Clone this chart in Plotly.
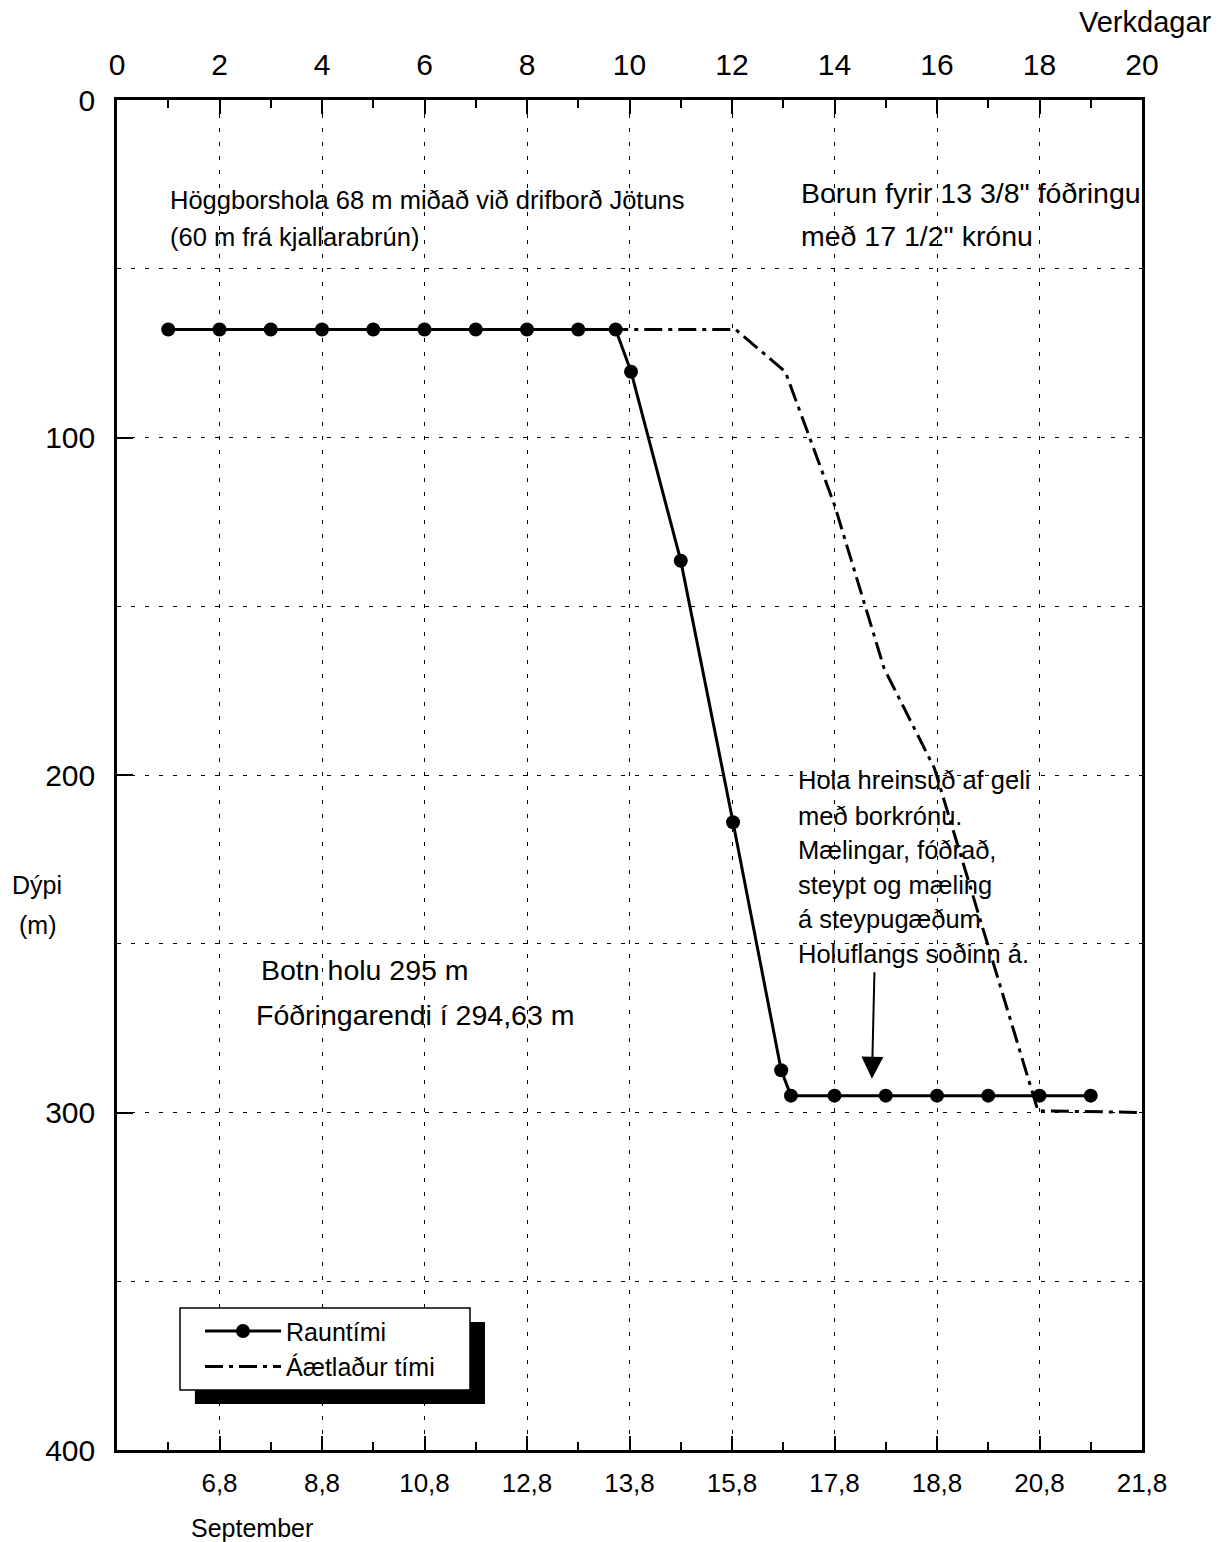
import plotly.graph_objects as go

# ---- data ----
raun_x = [1, 2, 3, 4, 5, 6, 7, 8, 9, 9.73, 10.03, 11.0, 12.02, 12.96, 13.15, 14, 15, 16, 17, 18, 19]
raun_y = [68, 68, 68, 68, 68, 68, 68, 68, 68, 68, 80.5, 136.5, 214, 287.5, 295, 295, 295, 295, 295, 295, 295]

aetl_x = [1, 9.73, 12.07, 13.04, 14.0, 14.97, 15.95, 17.97, 20]
aetl_y = [68, 68, 68, 80.5, 120, 168.5, 198, 299.5, 300]

top_tickvals = [0, 2, 4, 6, 8, 10, 12, 14, 16, 18, 20]
top_ticktext = ["0", "2", "4", "6", "8", "10", "12", "14", "16", "18", "20"]
minor_tickvals = [1, 3, 5, 7, 9, 11, 13, 15, 17, 19]
bottom_tickvals = [2, 4, 6, 8, 10, 12, 14, 16, 18, 20]
bottom_ticktext = ["6,8", "8,8", "10,8", "12,8", "13,8", "15,8", "17,8", "18,8", "20,8", "21,8"]
y_tickvals = [0, 100, 200, 300, 400]

FONT = "Liberation Sans, Arial, sans-serif"

fig = go.Figure()

fig.add_trace(go.Scatter(
    x=aetl_x, y=aetl_y, mode="lines", name="Áætlaður tími",
    line=dict(color="black", width=3, dash="18px,6px,4px,6px"),
))
fig.add_trace(go.Scatter(
    x=raun_x, y=raun_y, mode="lines+markers", name="Rauntími",
    line=dict(color="black", width=3),
    marker=dict(color="black", size=14, symbol="circle"),
))
# helper trace to activate top axis
fig.add_trace(go.Scatter(
    x=[0], y=[0], xaxis="x2", mode="markers", marker=dict(opacity=0),
    showlegend=False, hoverinfo="skip",
))

axis_common = dict(
    showline=True, linecolor="black", linewidth=2.5,
    ticks="inside", tickcolor="black", tickwidth=2,
    zeroline=False,
)

fig.update_layout(
    width=1229, height=1542,
    margin=dict(l=117, r=87, t=100, b=92),
    paper_bgcolor="white", plot_bgcolor="white",
    font=dict(family=FONT, color="black"),
    xaxis=dict(
        **axis_common,
        range=[0, 20],
        tickmode="array", tickvals=bottom_tickvals, ticktext=bottom_ticktext,
        ticklen=14,
        tickfont=dict(size=26, family=FONT, color="black"),
        ticklabelstandoff=8,
        showgrid=True, gridcolor="black", gridwidth=1.2, griddash="4px,10px",
        minor=dict(tickmode="array", tickvals=minor_tickvals, ticks="inside",
                   ticklen=8, tickwidth=2, tickcolor="black", showgrid=False),
    ),
    xaxis2=dict(
        **axis_common,
        overlaying="x", side="top", matches="x", range=[0, 20],
        tickmode="array", tickvals=top_tickvals, ticktext=top_ticktext,
        ticklen=14,
        tickfont=dict(size=30, family=FONT, color="black"),
        ticklabelstandoff=10,
        showgrid=False,
        minor=dict(tickmode="array", tickvals=minor_tickvals, ticks="inside",
                   ticklen=8, tickwidth=2, tickcolor="black", showgrid=False),
    ),
    yaxis=dict(
        **axis_common,
        mirror=True,
        range=[400, 0],
        tickmode="array", tickvals=y_tickvals,
        ticklen=16,
        tickfont=dict(size=30, family=FONT, color="black"),
        ticklabelstandoff=13,
        showgrid=True, gridcolor="black", gridwidth=1.2, griddash="4px,10px",
        minor=dict(dtick=50, showgrid=True, gridcolor="black", gridwidth=1.2,
                   griddash="4px,10px", ticks=""),
    ),
    legend=dict(
        x=0.081, y=0.105, xanchor="left", yanchor="top",
        bgcolor="rgba(0,0,0,0)", borderwidth=0,
        font=dict(size=25, family=FONT, color="black"),
        itemwidth=76, traceorder="reversed",
        tracegroupgap=0,
    ),
    showlegend=True,
)

# legend drop shadow and box
fig.add_shape(type="rect", xref="x", yref="y",
              x0=1.52, x1=7.18, y0=362.1, y1=386.4,
              fillcolor="black", line=dict(color="black", width=0), layer="above")
fig.add_shape(type="rect", xref="x", yref="y",
              x0=1.229, x1=6.888, y0=357.9, y1=382.2,
              fillcolor="white", line=dict(color="black", width=1.5), layer="above")

def txt(x, y, s, size, xref="x", yref="y", xanchor="left"):
    fig.add_annotation(x=x, y=y, xref=xref, yref=yref, text=s, showarrow=False,
                       xanchor=xanchor, yanchor="middle",
                       font=dict(size=size, family=FONT, color="black"))

hogg_lines = ["Höggborshola 68 m miðað við drifborð Jötuns", "(60 m frá kjallarabrún)"]
hogg_y = [29.6, 40.6]
for s, yy in zip(hogg_lines, hogg_y):
    txt(1.0, yy, s, 25.5)

borun_lines = ["Borun fyrir 13 3/8\" fóðringu", "með 17 1/2\" krónu"]
borun_y = [27.6, 40.3]
for s, yy in zip(borun_lines, borun_y):
    txt(13.3, yy, s, 28.5)

hola_lines = ["Hola hreinsuð af geli", "með borkrónu.", "Mælingar, fóðrað,",
              "steypt og mæling", "á steypugæðum", "Holuflangs soðinn á."]
hola_y = [201.5, 212.1, 222.2, 232.6, 242.7, 253.0]
for s, yy in zip(hola_lines, hola_y):
    txt(13.25, yy, s, 25.5)

txt(2.77, 257.8, "Botn holu 295 m", 28.5)
txt(2.67, 271.1, "Fóðringarendi í 294,63 m", 28.5)

txt(-0.078, 0.4185, "Dýpi", 25, xref="paper", yref="paper", xanchor="center")
txt(-0.078, 0.389, "(m)", 25, xref="paper", yref="paper", xanchor="center")
txt(1.070, 1.0578, "Verkdagar", 29, xref="paper", yref="paper", xanchor="right")
txt(0.070, -0.0578, "September", 25, xref="paper", yref="paper", xanchor="left")

# arrow
fig.add_annotation(x=14.73, y=290, ax=14.78, ay=258, xref="x", yref="y",
                   axref="x", ayref="y", text="", showarrow=True,
                   arrowhead=2, arrowsize=2.2, arrowwidth=2, arrowcolor="black")

fig.write_html("out.html", config={"displayModeBar": False},
               post_script="document.body.style.margin='0px';")
